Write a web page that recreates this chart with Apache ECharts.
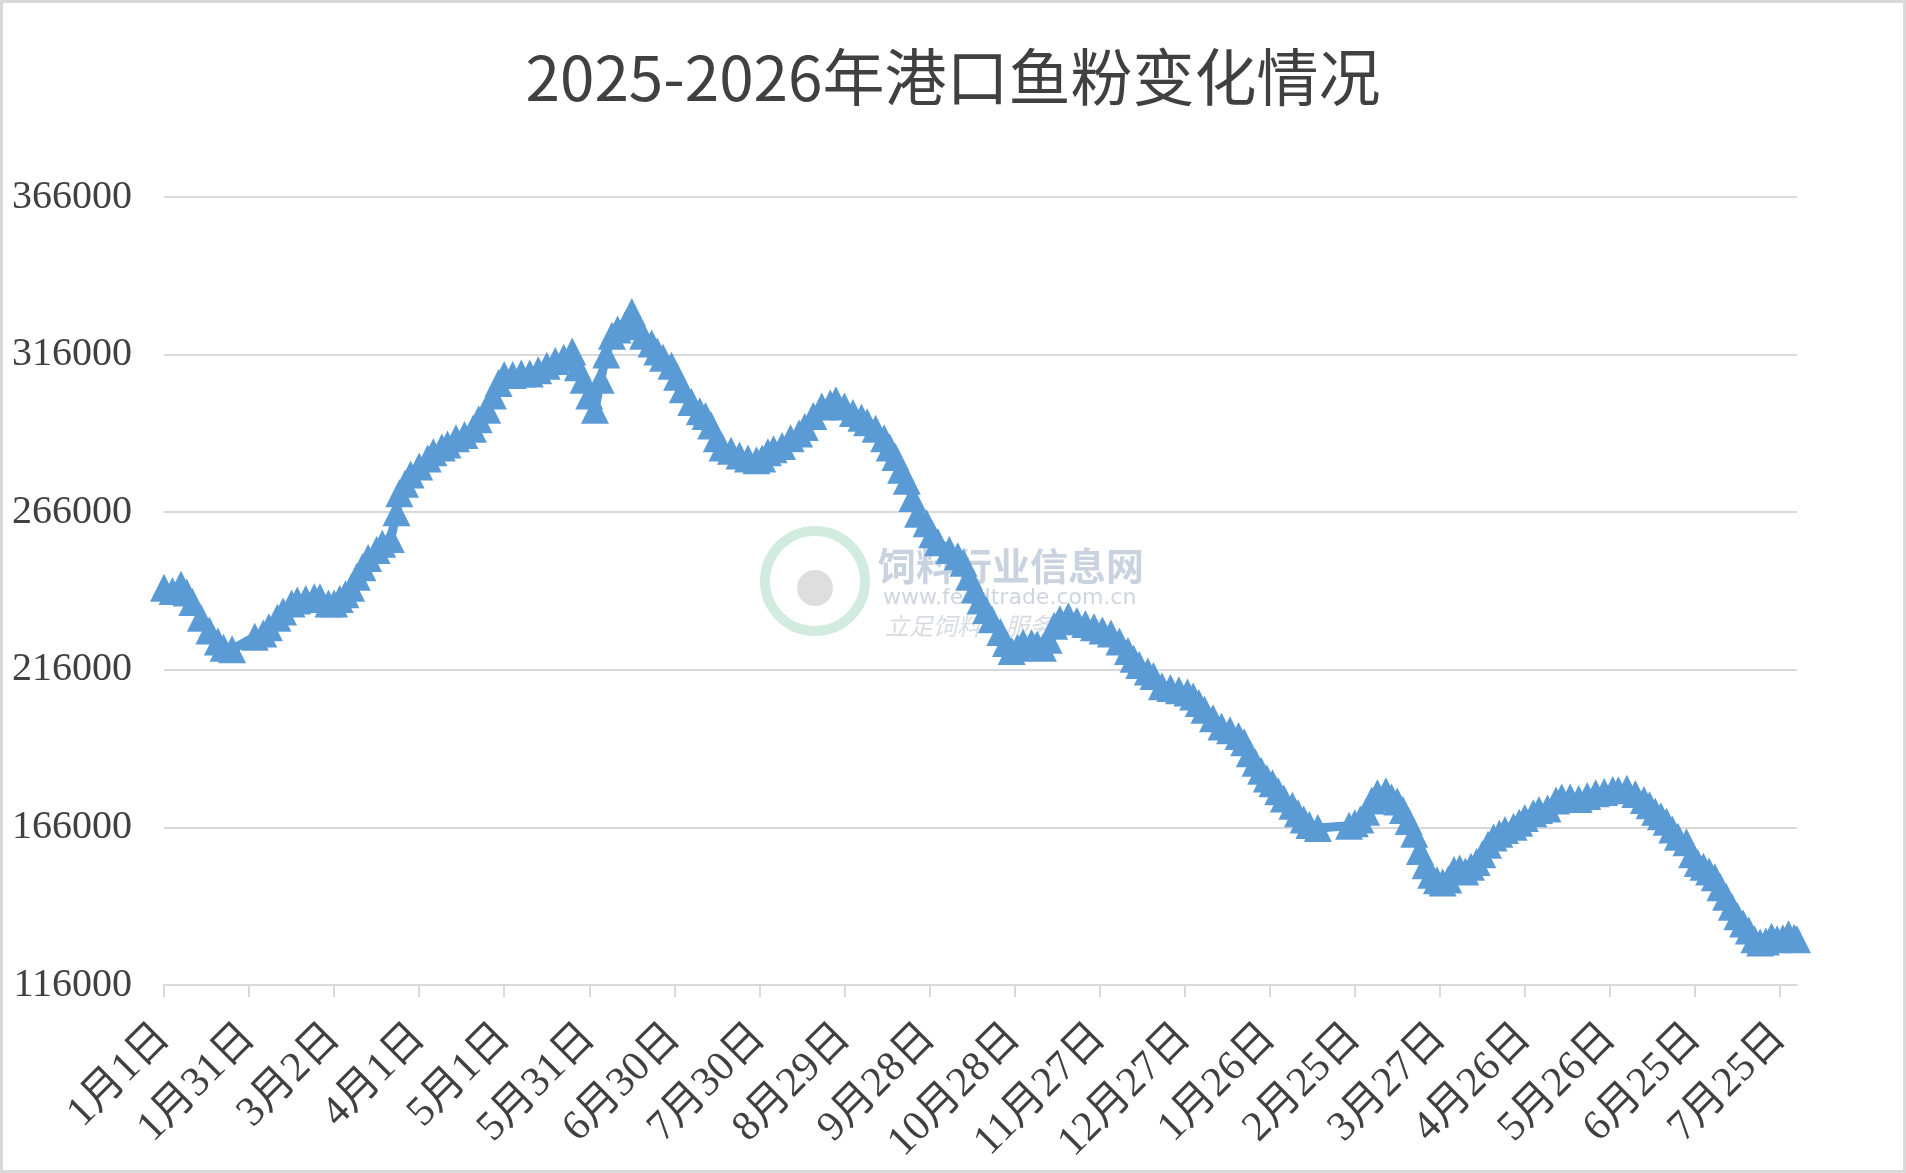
<!DOCTYPE html>
<html>
<head>
<meta charset="utf-8">
<title>2025-2026年港口鱼粉变化情况</title>
<script src="https://cdn.jsdelivr.net/npm/echarts@6/dist/echarts.min.js"></script>
<style>
  html, body { margin: 0; padding: 0; background: #fff; }
  #chart { width: 1906px; height: 1173px; }
</style>
</head>
<body>
<div id="chart"></div>
<script>
// axis range (daily category axis)
var startDate = '2025-01-01';
var endDate = '2026-07-31';
var yMin = 116000, yMax = 366000, yStep = 50000;

// port fish meal price
var dates = [
  '2025-01-01','2025-01-04','2025-01-07','2025-01-09','2025-01-11','2025-01-14','2025-01-17','2025-01-20','2025-01-22','2025-01-25',
  '2025-02-02','2025-02-05','2025-02-07','2025-02-10','2025-02-12','2025-02-15','2025-02-17','2025-02-20','2025-02-23','2025-02-25','2025-02-28',
  '2025-03-02','2025-03-04','2025-03-06','2025-03-08','2025-03-10','2025-03-12','2025-03-14','2025-03-17','2025-03-19','2025-03-22','2025-03-24','2025-03-25','2025-03-27','2025-03-29',
  '2025-04-01','2025-04-04','2025-04-06','2025-04-09','2025-04-11','2025-04-14','2025-04-17','2025-04-20','2025-04-22','2025-04-25','2025-04-27','2025-04-29',
  '2025-05-01','2025-05-04','2025-05-07','2025-05-10','2025-05-13','2025-05-16','2025-05-19','2025-05-22','2025-05-25','2025-05-27','2025-05-29','2025-05-31',
  '2025-06-02','2025-06-04','2025-06-06','2025-06-08','2025-06-10','2025-06-13','2025-06-15','2025-06-17','2025-06-19','2025-06-22','2025-06-24','2025-06-26','2025-06-29',
  '2025-07-01','2025-07-03','2025-07-06','2025-07-09','2025-07-11','2025-07-13','2025-07-15','2025-07-17','2025-07-20','2025-07-23','2025-07-26','2025-07-29','2025-07-31',
  '2025-08-02','2025-08-04','2025-08-07','2025-08-10','2025-08-13','2025-08-15','2025-08-18','2025-08-21','2025-08-24','2025-08-26','2025-08-29',
  '2025-09-01','2025-09-04','2025-09-06','2025-09-09','2025-09-12','2025-09-14','2025-09-16','2025-09-18','2025-09-20','2025-09-22','2025-09-24','2025-09-27','2025-09-29',
  '2025-10-01','2025-10-05','2025-10-08','2025-10-10','2025-10-12','2025-10-14','2025-10-16','2025-10-18','2025-10-20','2025-10-23','2025-10-25','2025-10-27','2025-10-29','2025-10-31',
  '2025-11-03','2025-11-05','2025-11-07','2025-11-09','2025-11-11','2025-11-13','2025-11-16','2025-11-19','2025-11-22','2025-11-25','2025-11-28',
  '2025-12-01','2025-12-04','2025-12-07','2025-12-09','2025-12-11','2025-12-14','2025-12-16','2025-12-19','2025-12-22','2025-12-25','2025-12-28','2025-12-30',
  '2026-01-01','2026-01-03','2026-01-06','2026-01-09','2026-01-12','2026-01-15','2026-01-17','2026-01-19','2026-01-21','2026-01-23','2026-01-25','2026-01-27','2026-01-29','2026-01-31',
  '2026-02-03','2026-02-05','2026-02-07','2026-02-09','2026-02-12','2026-02-23','2026-02-25','2026-02-27',
  '2026-03-01','2026-03-03','2026-03-05','2026-03-08','2026-03-10','2026-03-12','2026-03-14','2026-03-16','2026-03-18','2026-03-20','2026-03-22','2026-03-24','2026-03-26','2026-03-28','2026-03-30',
  '2026-04-01','2026-04-03','2026-04-05','2026-04-07','2026-04-09','2026-04-11','2026-04-13','2026-04-15','2026-04-17','2026-04-19','2026-04-22','2026-04-24','2026-04-26','2026-04-29',
  '2026-05-01','2026-05-04','2026-05-07','2026-05-09','2026-05-12','2026-05-15','2026-05-18','2026-05-21','2026-05-24','2026-05-27','2026-05-29',
  '2026-06-01','2026-06-04','2026-06-07','2026-06-09','2026-06-11','2026-06-13','2026-06-15','2026-06-17','2026-06-19','2026-06-22','2026-06-24','2026-06-26','2026-06-28','2026-06-30',
  '2026-07-02','2026-07-04','2026-07-06','2026-07-08','2026-07-10','2026-07-12','2026-07-14','2026-07-16','2026-07-18','2026-07-20','2026-07-22','2026-07-24','2026-07-26','2026-07-28','2026-07-30','2026-07-31'
];
var prices = [
  242000,241000,243000,240500,237500,232500,228500,225000,223000,222500,
  226500,227500,229500,232500,234500,237000,238000,238500,239000,239000,237000,
  237000,238500,240000,242000,245500,248500,251500,254000,256000,257500,266000,272000,275000,278000,
  280500,283000,285000,286500,287500,289500,290500,292500,295500,298500,303000,307000,
  309500,309500,310000,310000,311000,312500,314000,315000,317000,312000,308000,303000,
  298500,308000,316000,322000,324000,326000,329500,325000,322000,319500,317000,315000,312500,
  309000,305000,301000,298000,296500,293500,289500,286500,285500,284000,283000,282500,283000,
  285000,286000,287000,289500,291000,293000,296500,299500,300500,301500,299500,
  297500,296000,294500,292500,289500,286500,283500,279500,276000,270500,265500,262500,259000,
  256500,254000,252000,250000,245500,241500,238000,235000,232000,228000,224500,222000,223000,224500,
  224500,224000,223000,225500,230000,232000,233000,231500,230500,229500,228500,
  227500,225000,222000,219500,217500,215500,214000,210800,210200,209500,208800,207500,
  205500,203300,200600,198000,196800,195000,193000,189500,186500,184000,181500,180000,177500,175200,
  172900,170500,168500,166800,165800,166500,167300,168500,
  171000,174500,176800,177500,175500,174200,171500,168000,164000,158500,154000,151000,149200,148500,149500,
  152500,153000,152000,153500,155000,157500,160500,162800,164000,165200,166200,167500,169000,170500,
  171500,172000,174500,175500,175500,175000,176000,176800,177200,177900,177800,
  178300,176600,174700,173000,171000,169500,167800,165300,163000,161300,157500,154700,153500,152000,
  150200,147000,144000,140800,137800,135500,133300,130500,129500,129800,131300,130500,130800,132100,131000,130500
];

function dayList(from, to) {
  var out = [];
  var d = new Date(from + 'T00:00:00Z');
  var end = new Date(to + 'T00:00:00Z');
  while (d <= end) {
    out.push(d.toISOString().slice(0, 10));
    d.setUTCDate(d.getUTCDate() + 1);
  }
  return out;
}

var categories = dayList(startDate, endDate);
var seriesData = dates.map(function (t, i) { return [t, prices[i]]; });

var labelFont = "'Liberation Serif', 'Noto Sans CJK SC', serif";

var chart = echarts.init(document.getElementById('chart'), null, { renderer: 'canvas' });
chart.setOption({
  animation: false,
  backgroundColor: '#ffffff',
  title: {
    text: '2025-2026年港口鱼粉变化情况',
    left: 'center',
    top: 41,
    textStyle: {
      fontFamily: "'Noto Sans CJK SC', sans-serif",
      fontSize: 62,
      fontWeight: 'normal',
      color: '#404040'
    }
  },
  grid: {
    left: 164,
    right: 109,
    top: 197,
    bottom: 188,
    containLabel: false,
    outerBoundsMode: 'none'
  },
  xAxis: {
    type: 'category',
    data: categories,
    boundaryGap: false,
    axisLine: { show: true, lineStyle: { color: '#d9d9d9', width: 2 } },
    axisTick: { show: true, interval: 29, length: 12, lineStyle: { color: '#d9d9d9', width: 2 } },
    axisLabel: {
      interval: 29,
      rotate: 45,
      margin: 46,
      fontFamily: labelFont,
      fontSize: 42,
      color: '#404040',
      formatter: function (v) {
        var p = v.split('-');
        return parseInt(p[1], 10) + '月' + parseInt(p[2], 10) + '日';
      }
    },
    splitLine: { show: false }
  },
  yAxis: {
    type: 'value',
    min: yMin,
    max: yMax,
    interval: yStep,
    axisLine: { show: false },
    axisTick: { show: false },
    axisLabel: {
      margin: 32,
      fontFamily: labelFont,
      fontSize: 40,
      color: '#404040',
      formatter: function (v) { return String(v); }
    },
    splitLine: { show: true, lineStyle: { color: '#d9d9d9', width: 2 } }
  },
  series: [{
    type: 'line',
    data: seriesData,
    symbol: 'triangle',
    symbolSize: 28,
    showAllSymbol: true,
    lineStyle: { color: '#5b9bd5', width: 9 },
    itemStyle: { color: '#5b9bd5', borderWidth: 0 },
    z: 3
  }],
  graphic: [
    {
      type: 'rect',
      shape: { x: 1.5, y: 1.5, width: 1903, height: 1170 },
      style: { fill: 'none', stroke: '#d9d9d9', lineWidth: 3 },
      silent: true
    },
    {
      type: 'group',
      z: 100,
      silent: true,
      children: [
        {
          type: 'circle',
          shape: { cx: 815, cy: 581, r: 50 },
          style: { fill: 'none', stroke: 'rgba(190,228,210,0.7)', lineWidth: 10 }
        },
        {
          type: 'circle',
          shape: { cx: 815, cy: 588, r: 18 },
          style: { fill: 'rgba(200,200,200,0.6)' }
        },
        {
          type: 'text',
          style: {
            text: '饲料行业信息网', x: 878, y: 566,
            font: "bold 38px 'Noto Sans CJK SC'",
            fill: 'rgba(165,180,200,0.6)', verticalAlign: 'middle'
          }
        },
        {
          type: 'text',
          style: {
            text: 'www.feedtrade.com.cn', x: 883, y: 598,
            font: "22px 'DejaVu Sans'",
            fill: 'rgba(175,185,200,0.6)', verticalAlign: 'middle'
          }
        },
        {
          type: 'text',
          style: {
            text: '立足饲料　服务畜牧', x: 885, y: 626,
            font: "italic 24px 'Noto Sans CJK SC'",
            fill: 'rgba(185,190,200,0.55)', verticalAlign: 'middle'
          }
        }
      ]
    }
  ]
});
</script>
</body>
</html>
